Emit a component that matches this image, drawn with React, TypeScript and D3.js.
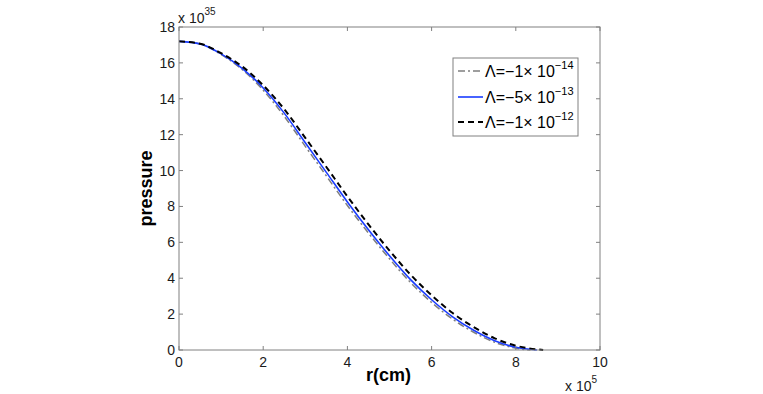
import React, { useEffect, useRef } from 'react';
import * as d3 from 'd3';

// radius in units of 1e5 cm
const radius = [0, 0.5, 1, 1.5, 2, 2.5, 3, 3.5, 4, 4.5, 5, 5.5, 6, 6.5, 7, 7.5, 8];

// pressure in units of 1e35
const pressureA = [17.2, 17.05, 16.47, 15.63, 14.48, 13.02, 11.35, 9.7, 8.05, 6.52, 5.08, 3.76, 2.65, 1.72, 0.99, 0.43, 0.1];
const pressureB = [17.2, 17.06, 16.5, 15.7, 14.6, 13.2, 11.55, 9.9, 8.25, 6.7, 5.25, 3.92, 2.8, 1.85, 1.1, 0.52, 0.15];
const pressureC = [17.2, 17.07, 16.54, 15.8, 14.75, 13.42, 11.82, 10.2, 8.56, 7.0, 5.54, 4.2, 3.05, 2.06, 1.28, 0.65, 0.24];
// where each curve reaches zero
const endR = [8.35, 8.5, 8.65];

const legendBase = ['Λ=−1× 10', 'Λ=−5× 10', 'Λ=−1× 10'];
const legendExp = ['−14', '−13', '−12'];

const xTicks = [0, 2, 4, 6, 8, 10];
const yTicks = [0, 2, 4, 6, 8, 10, 12, 14, 16, 18];

export default function App() {
  const ref = useRef<SVGSVGElement>(null);

  useEffect(() => {
    const svg = d3.select(ref.current);
    svg.selectAll('*').remove();

    const left = 179, right = 600, top = 27, bottom = 350;
    const x = d3.scaleLinear().domain([0, 10]).range([left, right]);
    const y = d3.scaleLinear().domain([0, 18]).range([bottom, top]);
    const axisColor = '#808080';
    const font = 'Liberation Sans, Arial, sans-serif';

    const series = [
      { vals: pressureA, color: '#7f7f7f', dash: '7,3,2,3', width: 1.5 },
      { vals: pressureB, color: '#1a3cff', dash: null, width: 1.6 },
      { vals: pressureC, color: '#000000', dash: '6,4', width: 2 },
    ];

    const line = d3.line<[number, number]>()
      .x(d => x(d[0]))
      .y(d => y(d[1]))
      .curve(d3.curveMonotoneX);

    series.forEach((s, i) => {
      const pts: [number, number][] = radius.map((r, j) => [r, s.vals[j]]);
      pts.push([endR[i], 0]);
      svg.append('path')
        .attr('d', line(pts))
        .attr('fill', 'none')
        .attr('stroke', s.color)
        .attr('stroke-width', s.width)
        .attr('stroke-dasharray', s.dash);
    });

    // box
    svg.append('rect')
      .attr('x', left).attr('y', top)
      .attr('width', right - left).attr('height', bottom - top)
      .attr('fill', 'none').attr('stroke', axisColor).attr('stroke-width', 1);

    // ticks inside, mirrored
    const tickG = svg.append('g').attr('stroke', axisColor).attr('stroke-width', 1);
    xTicks.forEach(t => {
      tickG.append('line').attr('x1', x(t)).attr('x2', x(t)).attr('y1', bottom).attr('y2', bottom - 4);
      tickG.append('line').attr('x1', x(t)).attr('x2', x(t)).attr('y1', top).attr('y2', top + 4);
    });
    yTicks.forEach(t => {
      tickG.append('line').attr('x1', left).attr('x2', left + 4).attr('y1', y(t)).attr('y2', y(t));
      tickG.append('line').attr('x1', right).attr('x2', right - 4).attr('y1', y(t)).attr('y2', y(t));
    });

    // tick labels
    svg.append('g').selectAll('text').data(xTicks).join('text')
      .attr('x', d => x(d)).attr('y', bottom + 17)
      .attr('text-anchor', 'middle')
      .attr('font-family', font).attr('font-size', 14).attr('fill', '#1a1a1a')
      .text(d => d);
    svg.append('g').selectAll('text').data(yTicks).join('text')
      .attr('x', left - 4).attr('y', d => y(d) + 5)
      .attr('text-anchor', 'end')
      .attr('font-family', font).attr('font-size', 14).attr('fill', '#1a1a1a')
      .text(d => d);

    // exponent labels
    const yExp = svg.append('text').attr('x', left - 1).attr('y', 23)
      .attr('font-family', font).attr('font-size', 14).attr('fill', '#1a1a1a');
    yExp.append('tspan').text('x 10');
    yExp.append('tspan').attr('dy', -8).attr('font-size', 10).text('35');

    const xExp = svg.append('text').attr('x', 565).attr('y', 391)
      .attr('font-family', font).attr('font-size', 14).attr('fill', '#1a1a1a');
    xExp.append('tspan').text('x 10');
    xExp.append('tspan').attr('dy', -8).attr('font-size', 10).text('5');

    // axis titles
    svg.append('text')
      .attr('x', (left + right) / 2 - 1).attr('y', 381)
      .attr('text-anchor', 'middle')
      .attr('font-family', font).attr('font-size', 18).attr('font-weight', 'bold')
      .text('r(cm)');
    svg.append('text')
      .attr('transform', `translate(152,${(top + bottom) / 2}) rotate(-90)`)
      .attr('text-anchor', 'middle')
      .attr('font-family', font).attr('font-size', 18).attr('font-weight', 'bold')
      .text('pressure');

    // legend
    const lg = svg.append('g');
    lg.append('rect')
      .attr('x', 453).attr('y', 58).attr('width', 125).attr('height', 78)
      .attr('fill', '#fff').attr('stroke', axisColor).attr('stroke-width', 1);
    const rowY = [71, 97, 122];
    series.forEach((s, i) => {
      lg.append('line')
        .attr('x1', 458).attr('x2', 483)
        .attr('y1', rowY[i]).attr('y2', rowY[i])
        .attr('stroke', s.color).attr('stroke-width', s.width)
        .attr('stroke-dasharray', s.dash);
      const t = lg.append('text').attr('x', 485).attr('y', rowY[i] + 6)
        .attr('font-family', font).attr('font-size', 16).attr('fill', '#000');
      t.append('tspan').text(legendBase[i]);
      t.append('tspan').attr('dy', -8).attr('font-size', 11).text(legendExp[i]);
    });
  }, []);

  return (
    <svg ref={ref} width={763} height={394}
      style={{ position: 'absolute', left: 0, top: 0, background: '#fff' }} />
  );
}
